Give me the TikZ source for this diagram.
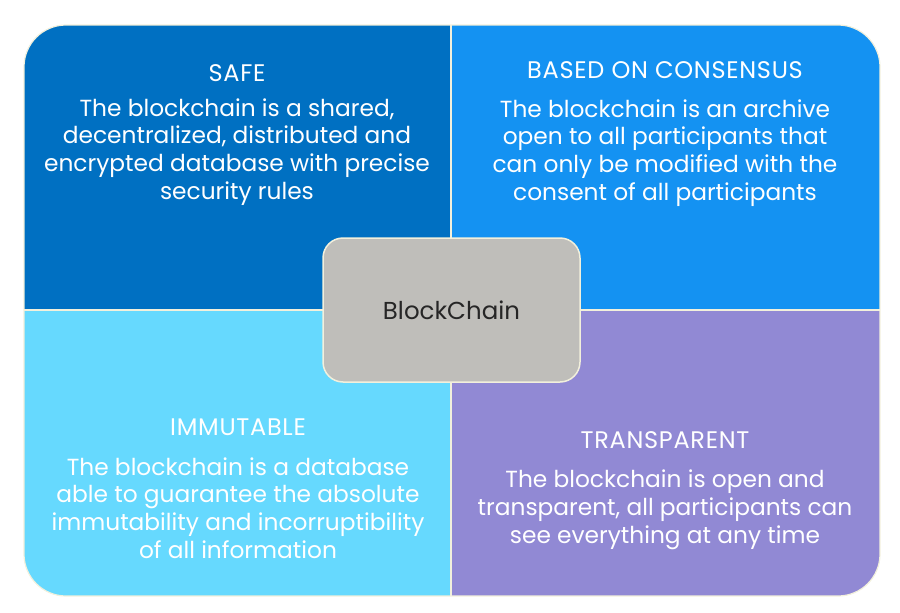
\documentclass[tikz,border=0pt]{standalone}
\usepackage{fontspec}
\setmainfont{Poppins}
\definecolor{qone}{HTML}{0070C2}
\definecolor{qtwo}{HTML}{1492F2}
\definecolor{qthree}{HTML}{66D9FE}
\definecolor{qfour}{HTML}{9189D4}
\definecolor{cbox}{HTML}{BFBEBA}
\definecolor{edge}{HTML}{F2F0DC}
\newfontfamily\ttlfont[LetterSpace=3]{Poppins}
\begin{document}
\begin{tikzpicture}[x=1pt,y=-1pt,
  ttl/.style={text=white,font=\ttlfont\fontsize{24}{27}\selectfont,anchor=center},
  body/.style={text=white,font=\fontsize{23.3}{27.8}\selectfont,align=center,anchor=center},
  ]
\useasboundingbox (0,0) rectangle (900,613);
\begin{scope}
\clip[rounded corners=42] (24,25) rectangle (880,596);
\fill[qone] (24,25) rectangle (451,310);
\fill[qtwo] (451,25) rectangle (880,310);
\fill[qthree] (24,310) rectangle (451,596);
\fill[qfour] (451,310) rectangle (880,596);
\draw[edge,line width=1.5] (451,25) -- (451,596);
\draw[edge,line width=1.5] (24,310) -- (880,310);
\end{scope}
\draw[edge,line width=1.2,rounded corners=42] (24,25) rectangle (880,596);
\node[ttl] (t1) at (237,73) {SAFE};
\node[body] (b1) at (237,152) {The blockchain is a shared,\\decentralized, distributed and\\encrypted database with precise\\security rules};
\node[ttl] (t2) at (665,70) {BASED ON CONSENSUS};
\node[body] (b2) at (665,153) {The blockchain is an archive\\open to all participants that\\can only be modified with the\\consent of all participants};
\node[ttl] (t3) at (238,427) {IMMUTABLE};
\node[body] (b3) at (238,508) {The blockchain is a database\\able to guarantee the absolute\\immutability and incorruptibility\\of all information};
\node[ttl] (t4) at (665,440) {TRANSPARENT};
\node[body] (b4) at (665,510) {The blockchain is open and\\transparent, all participants can\\see everything at any time};
\node[fill=cbox,draw=edge,line width=1.5,rounded corners=20,minimum width=257,minimum height=144,font=\fontsize{24.5}{28}\selectfont,text=black!85] (c) at (451.5,310) {BlockChain};
\end{tikzpicture}
\end{document}
